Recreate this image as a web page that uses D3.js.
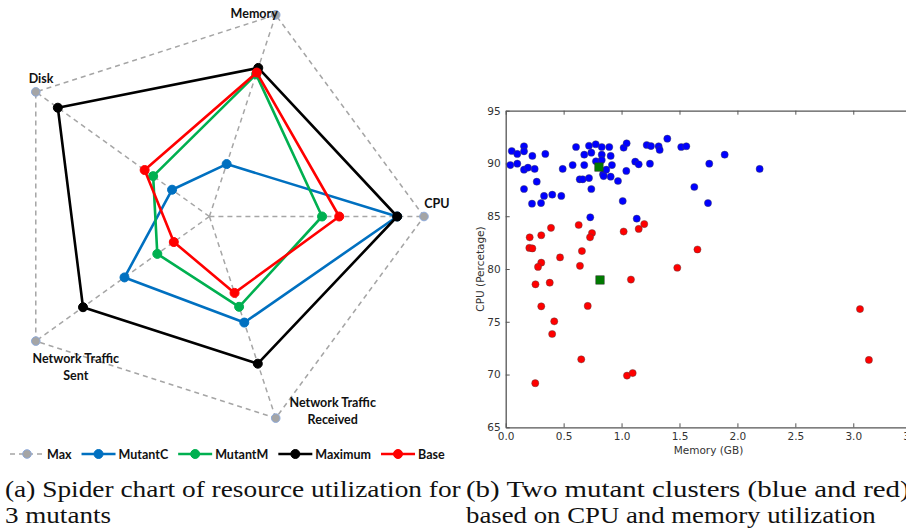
<!DOCTYPE html>
<html>
<head>
<meta charset="utf-8">
<script src="https://cdn.jsdelivr.net/npm/d3@7"></script>
<style>
  body { margin: 0; background: #fff; }
  svg { display: block; }
</style>
</head>
<body>
<div id="chart"></div>
<script>
// ---- Spider chart data (each axis normalised to its maximum) ----
var radarAxes = ["CPU", "Memory", "Disk", "Network Traffic Sent", "Network Traffic Received"];
var radarAxisLines = [["CPU"], ["Memory"], ["Disk"], ["Network Traffic", "Sent"], ["Network Traffic", "Received"]];
var seriesNames = ["Max", "MutantC", "MutantM", "Maximum", "Base"];
var maxValues = [1, 1, 1, 1, 1];
var mutantCValues = [0.875, 0.26, 0.215, 0.489, 0.526];
var mutantMValues = [0.525, 0.705, 0.324, 0.30, 0.448];
var maximumValues = [0.875, 0.737, 0.873, 0.728, 0.73];
var baseValues = [0.605, 0.714, 0.373, 0.205, 0.379];

// ---- Scatter data: memory (GB) vs CPU (%) ----
var blueMemory = [0.052, 0.100, 0.158, 0.158, 0.230, 0.342, 0.040, 0.100, 0.158, 0.192,
  0.250, 0.268, 0.158, 0.227, 0.305, 0.331, 0.402, 0.480, 0.492, 0.578,
  0.607, 0.678, 0.678, 0.719, 0.639, 0.665, 0.719, 0.739, 0.739, 0.777,
  0.779, 0.829, 0.829, 0.829, 0.840, 0.845, 0.868, 0.894, 0.906, 0.917,
  0.906, 0.969, 1.010, 1.018, 1.044, 1.041, 1.118, 1.148, 1.131, 0.730,
  1.217, 1.254, 1.245, 1.320, 1.329, 1.395, 1.515, 1.559, 1.628, 1.746,
  1.757, 1.890, 2.192];
var blueCpu = [91.18, 90.90, 91.63, 91.15, 90.71, 90.90, 89.85, 89.98, 89.41, 89.60,
  89.48, 88.27, 87.58, 86.19, 86.25, 86.92, 87.04, 86.92, 89.48, 89.85,
  91.56, 89.85, 90.83, 91.68, 88.50, 88.50, 88.62, 87.58, 91.02, 91.82,
  90.21, 91.56, 90.83, 90.33, 88.98, 88.81, 89.41, 91.56, 90.71, 89.85,
  88.75, 88.34, 86.44, 91.49, 91.91, 89.29, 90.17, 89.92, 84.77, 84.90,
  91.75, 91.65, 89.98, 91.63, 91.28, 92.35, 91.56, 91.63, 87.77, 86.25,
  89.98, 90.83, 89.48];
var redMemory = [0.207, 0.204, 0.230, 0.307, 0.391, 0.630, 0.745, 0.728, 0.658, 0.469,
  0.307, 0.279, 0.641, 1.018, 1.148, 1.196, 1.655, 1.481, 0.257, 0.380,
  1.081, 0.307, 0.708, 0.419, 0.401, 0.652, 0.255, 1.047, 1.096, 3.058, 3.135];
var redCpu = [83.0, 82.0, 81.95, 83.2, 83.9, 84.17, 83.4, 83.0, 81.7, 81.1,
  80.6, 80.2, 80.3, 83.55, 83.8, 84.26, 81.85, 80.12, 78.55, 78.7,
  79.0, 76.46, 76.5, 75.04, 73.84, 71.44, 69.18, 69.9, 70.14, 76.2, 71.38];
var centroidMemory = [0.805, 0.814];
var centroidCpu = [89.66, 78.96];
var xTicks = [0, 0.5, 1.0, 1.5, 2.0, 2.5, 3.0, 3.5];
var yTicks = [65, 70, 75, 80, 85, 90, 95];

var captionA = ["(a) Spider chart of resource utilization for", "3 mutants"];
var captionB = ["(b) Two mutant clusters (blue and red)", "based on CPU and memory utilization"];

// ---- Layout ----
var svgWidth = 906;
var svgHeight = 529;

var svg = d3.select("#chart")
  .append("svg")
  .attr("width", svgWidth)
  .attr("height", svgHeight);

svg.append("rect").attr("width", svgWidth).attr("height", svgHeight).attr("fill", "#fff");

// ================= Spider chart =================
var radar = { cx: 209.4, cy: 216.5, rx: 214.6, ry: 212 };
var seriesColors = ["#a5a5a5", "#0070c0", "#00b050", "#000000", "#ff0000"];
var seriesValues = [maxValues, mutantCValues, mutantMValues, maximumValues, baseValues];

var rScaleX = d3.scaleLinear().domain([0, 1]).range([0, radar.rx]);
var rScaleY = d3.scaleLinear().domain([0, 1]).range([0, radar.ry]);
var angle = d3.scalePoint().domain(radarAxes).range([0, 2 * Math.PI * 4 / 5]);

function radarPoint(axis, v) {
  var a = angle(axis);
  return [radar.cx + rScaleX(v) * Math.cos(a), radar.cy - rScaleY(v) * Math.sin(a)];
}

var radarGroup = svg.append("g");

// spokes
radarGroup.selectAll(".spoke")
  .data(radarAxes)
  .enter()
  .append("line")
  .attr("x1", radar.cx)
  .attr("y1", radar.cy)
  .attr("x2", d => radarPoint(d, 1)[0])
  .attr("y2", d => radarPoint(d, 1)[1])
  .attr("stroke", "#a6a6a6")
  .attr("stroke-width", 1.5)
  .attr("stroke-dasharray", "5,4");

var radarLine = d3.line().curve(d3.curveLinearClosed);

seriesNames.forEach(function(name, i) {
  var pts = radarAxes.map((a, j) => radarPoint(a, seriesValues[i][j]));
  var isMax = name === "Max";
  radarGroup.append("path")
    .attr("d", radarLine(pts))
    .attr("fill", "none")
    .attr("stroke", seriesColors[i])
    .attr("stroke-width", isMax ? 1.5 : 2.6)
    .attr("stroke-dasharray", isMax ? "5,4" : null)
    .attr("stroke-linejoin", "round");
  radarGroup.selectAll(null)
    .data(pts)
    .enter()
    .append("circle")
    .attr("cx", d => d[0])
    .attr("cy", d => d[1])
    .attr("r", isMax ? 4.3 : 4.5)
    .attr("fill", seriesColors[i])
    .attr("stroke", isMax ? "#8eaadb" : seriesColors[i])
    .attr("stroke-width", 1);
});

// axis labels (offsets from the outer vertex)
var labelOffsets = [[13, -9], [-21.5, 3], [5.3, -8.7], [40, 22], [57, -11]];
radarAxes.forEach(function(axis, i) {
  var p = radarPoint(axis, 1);
  var t = radarGroup.append("text")
    .attr("x", p[0] + labelOffsets[i][0])
    .attr("y", p[1] + labelOffsets[i][1])
    .attr("text-anchor", "middle")
    .attr("font-family", "Lato, 'Open Sans', sans-serif")
    .attr("font-weight", "bold")
    .attr("font-size", "12.5px")
    .attr("fill", "#111");
  radarAxisLines[i].forEach(function(line, k) {
    t.append("tspan")
      .attr("x", p[0] + labelOffsets[i][0])
      .attr("dy", k === 0 ? 0 : 17)
      .text(line);
  });
});

// legend
var legend = svg.append("g").attr("transform", "translate(10, 454)");
var lx = 0;
seriesNames.forEach(function(name, i) {
  var isMax = name === "Max";
  legend.append("line")
    .attr("x1", lx).attr("x2", lx + 34)
    .attr("y1", 0).attr("y2", 0)
    .attr("stroke", seriesColors[i])
    .attr("stroke-width", isMax ? 1.5 : 2.6)
    .attr("stroke-dasharray", isMax ? "5,4" : null);
  legend.append("circle")
    .attr("cx", lx + 17).attr("cy", 0)
    .attr("r", isMax ? 4.3 : 4.5)
    .attr("fill", seriesColors[i])
    .attr("stroke", isMax ? "#8eaadb" : seriesColors[i]);
  var txt = legend.append("text")
    .attr("x", lx + 37)
    .attr("y", 4.5)
    .attr("font-family", "Lato, 'Open Sans', sans-serif")
    .attr("font-weight", "bold")
    .attr("font-size", "12.5px")
    .attr("fill", "#111")
    .text(name);
  lx += 37 + txt.node().getComputedTextLength() + 10;
});

// ================= Scatter plot =================
var xScale = d3.scaleLinear().domain([0, 3.5]).range([505.7, 911.2]);
var yScale = d3.scaleLinear().domain([65, 95]).range([427.3, 110.7]);

var scatter = svg.append("g");

var bottomAxis = d3.axisBottom(xScale).tickValues(xTicks).tickFormat(d3.format(".1f"))
  .tickSizeInner(-4).tickSizeOuter(0).tickPadding(5);
var leftAxis = d3.axisLeft(yScale).tickValues(yTicks).tickFormat(d3.format("d"))
  .tickSizeInner(-4).tickSizeOuter(0).tickPadding(5);
var topAxis = d3.axisTop(xScale).tickValues(xTicks).tickFormat("")
  .tickSizeInner(-4).tickSizeOuter(0);
var rightAxis = d3.axisRight(yScale).tickValues(yTicks).tickFormat("")
  .tickSizeInner(-4).tickSizeOuter(0);

function styleAxis(g) {
  g.select(".domain").attr("stroke", "#555").attr("stroke-width", 1.3);
  g.selectAll(".tick line").attr("stroke", "#555");
  g.selectAll(".tick text").attr("fill", "#333")
    .attr("font-family", "'DejaVu Sans', sans-serif").attr("font-size", "10.5px");
}

scatter.append("g").attr("transform", "translate(0, 427.3)").call(bottomAxis).call(styleAxis);
scatter.append("g").attr("transform", "translate(505.7, 0)").call(leftAxis).call(styleAxis);
scatter.append("g").attr("transform", "translate(0, 110.7)").call(topAxis).call(styleAxis);
scatter.append("g").attr("transform", "translate(911.2, 0)").call(rightAxis).call(styleAxis);

scatter.selectAll(".blue")
  .data(d3.range(blueMemory.length))
  .enter()
  .append("circle")
  .attr("cx", i => xScale(blueMemory[i]))
  .attr("cy", i => yScale(blueCpu[i]))
  .attr("r", 3.6)
  .attr("fill", "#0000ff")
  .attr("stroke", "#444")
  .attr("stroke-width", 0.4);

scatter.selectAll(".red")
  .data(d3.range(redMemory.length))
  .enter()
  .append("circle")
  .attr("cx", i => xScale(redMemory[i]))
  .attr("cy", i => yScale(redCpu[i]))
  .attr("r", 3.6)
  .attr("fill", "#ff0000")
  .attr("stroke", "#444")
  .attr("stroke-width", 0.4);

scatter.selectAll(".centroid")
  .data(d3.range(centroidMemory.length))
  .enter()
  .append("rect")
  .attr("x", i => xScale(centroidMemory[i]) - 4.2)
  .attr("y", i => yScale(centroidCpu[i]) - 4.2)
  .attr("width", 8.4)
  .attr("height", 8.4)
  .attr("fill", "#007a00")
  .attr("stroke", "#333")
  .attr("stroke-width", 0.5);

scatter.append("text")
  .attr("x", 708.5)
  .attr("y", 453.5)
  .attr("text-anchor", "middle")
  .attr("font-family", "'DejaVu Sans', sans-serif")
  .attr("font-size", "10.5px")
  .attr("fill", "#333")
  .text("Memory (GB)");

scatter.append("text")
  .attr("transform", "translate(480, 269) rotate(-90)")
  .attr("dy", "0.35em")
  .attr("text-anchor", "middle")
  .attr("font-family", "'DejaVu Sans', sans-serif")
  .attr("font-size", "10.5px")
  .attr("fill", "#333")
  .text("CPU (Percetage)");

// ================= Captions =================
// serif captions, widened horizontally to the width of the original typesetting
function caption(str, x, y, width) {
  var t = svg.append("text")
    .attr("font-family", "'Liberation Serif', 'DejaVu Serif', serif")
    .attr("font-size", "23px")
    .attr("fill", "#111")
    .text(str);
  var sx = width / t.node().getComputedTextLength();
  t.attr("transform", `translate(${x}, ${y}) scale(${sx}, 1)`);
}

caption(captionA[0], 5, 497, 456);
caption(captionA[1], 5, 523, 106);
caption(captionB[0], 466, 497, 444);
caption(captionB[1], 466, 523, 410);
</script>
</body>
</html>
